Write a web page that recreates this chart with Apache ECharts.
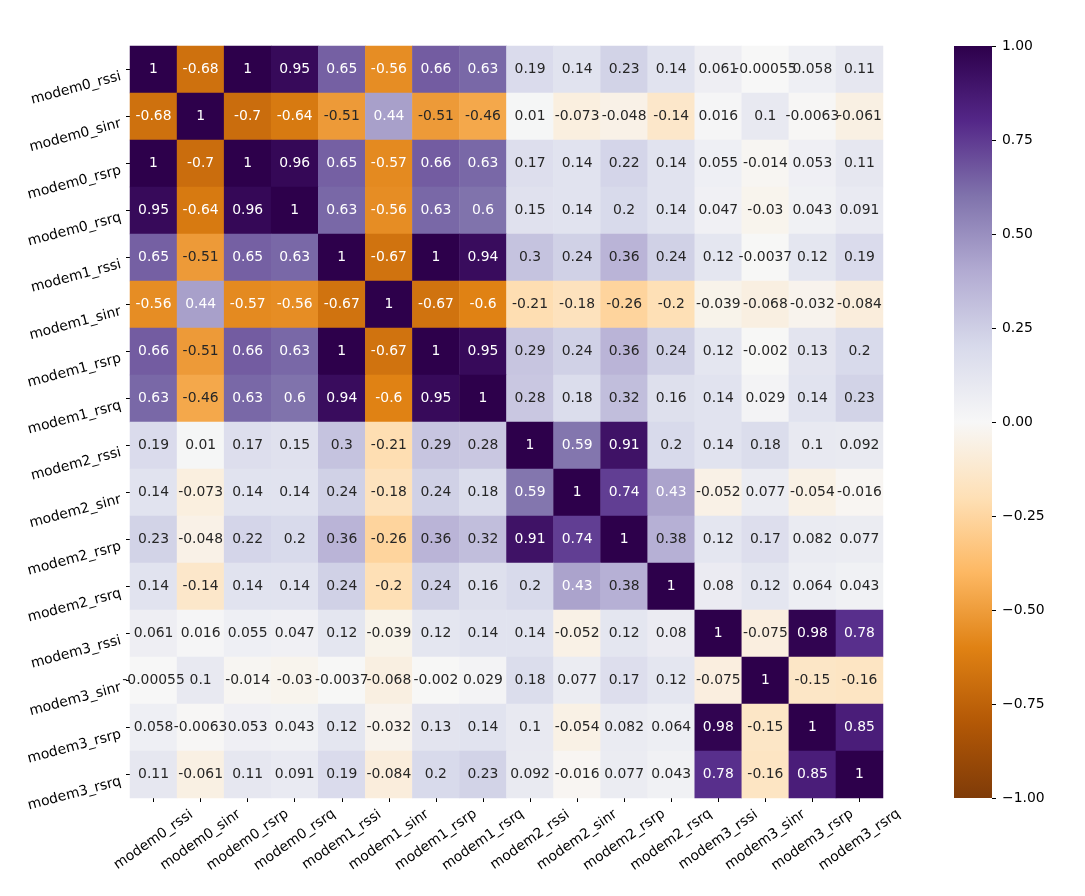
<!DOCTYPE html>
<html>
<head>
<meta charset="utf-8">
<script src="https://cdn.jsdelivr.net/npm/echarts@6/dist/echarts.min.js"></script>
<style>
html,body{margin:0;padding:0;background:#fff;}
#chart{width:1085px;height:896px;}
</style>
</head>
<body>
<div id="chart"></div>
<script>
const labels = ['modem0_rssi','modem0_sinr','modem0_rsrp','modem0_rsrq','modem1_rssi','modem1_sinr','modem1_rsrp','modem1_rsrq','modem2_rssi','modem2_sinr','modem2_rsrp','modem2_rsrq','modem3_rssi','modem3_sinr','modem3_rsrp','modem3_rsrq'];

const row_modem0_rssi = [1, -0.68, 1, 0.95, 0.65, -0.56, 0.66, 0.63, 0.19, 0.14, 0.23, 0.14, 0.061, -0.00055, 0.058, 0.11];
const row_modem0_sinr = [-0.68, 1, -0.7, -0.64, -0.51, 0.44, -0.51, -0.46, 0.01, -0.073, -0.048, -0.14, 0.016, 0.1, -0.0063, -0.061];
const row_modem0_rsrp = [1, -0.7, 1, 0.96, 0.65, -0.57, 0.66, 0.63, 0.17, 0.14, 0.22, 0.14, 0.055, -0.014, 0.053, 0.11];
const row_modem0_rsrq = [0.95, -0.64, 0.96, 1, 0.63, -0.56, 0.63, 0.6, 0.15, 0.14, 0.2, 0.14, 0.047, -0.03, 0.043, 0.091];
const row_modem1_rssi = [0.65, -0.51, 0.65, 0.63, 1, -0.67, 1, 0.94, 0.3, 0.24, 0.36, 0.24, 0.12, -0.0037, 0.12, 0.19];
const row_modem1_sinr = [-0.56, 0.44, -0.57, -0.56, -0.67, 1, -0.67, -0.6, -0.21, -0.18, -0.26, -0.2, -0.039, -0.068, -0.032, -0.084];
const row_modem1_rsrp = [0.66, -0.51, 0.66, 0.63, 1, -0.67, 1, 0.95, 0.29, 0.24, 0.36, 0.24, 0.12, -0.002, 0.13, 0.2];
const row_modem1_rsrq = [0.63, -0.46, 0.63, 0.6, 0.94, -0.6, 0.95, 1, 0.28, 0.18, 0.32, 0.16, 0.14, 0.029, 0.14, 0.23];
const row_modem2_rssi = [0.19, 0.01, 0.17, 0.15, 0.3, -0.21, 0.29, 0.28, 1, 0.59, 0.91, 0.2, 0.14, 0.18, 0.1, 0.092];
const row_modem2_sinr = [0.14, -0.073, 0.14, 0.14, 0.24, -0.18, 0.24, 0.18, 0.59, 1, 0.74, 0.43, -0.052, 0.077, -0.054, -0.016];
const row_modem2_rsrp = [0.23, -0.048, 0.22, 0.2, 0.36, -0.26, 0.36, 0.32, 0.91, 0.74, 1, 0.38, 0.12, 0.17, 0.082, 0.077];
const row_modem2_rsrq = [0.14, -0.14, 0.14, 0.14, 0.24, -0.2, 0.24, 0.16, 0.2, 0.43, 0.38, 1, 0.08, 0.12, 0.064, 0.043];
const row_modem3_rssi = [0.061, 0.016, 0.055, 0.047, 0.12, -0.039, 0.12, 0.14, 0.14, -0.052, 0.12, 0.08, 1, -0.075, 0.98, 0.78];
const row_modem3_sinr = [-0.00055, 0.1, -0.014, -0.03, -0.0037, -0.068, -0.002, 0.029, 0.18, 0.077, 0.17, 0.12, -0.075, 1, -0.15, -0.16];
const row_modem3_rsrp = [0.058, -0.0063, 0.053, 0.043, 0.12, -0.032, 0.13, 0.14, 0.1, -0.054, 0.082, 0.064, 0.98, -0.15, 1, 0.85];
const row_modem3_rsrq = [0.11, -0.061, 0.11, 0.091, 0.19, -0.084, 0.2, 0.23, 0.092, -0.016, 0.077, 0.043, 0.78, -0.16, 0.85, 1];

const rows = [row_modem0_rssi,row_modem0_sinr,row_modem0_rsrp,row_modem0_rsrq,
  row_modem1_rssi,row_modem1_sinr,row_modem1_rsrp,row_modem1_rsrq,
  row_modem2_rssi,row_modem2_sinr,row_modem2_rsrp,row_modem2_rsrq,
  row_modem3_rssi,row_modem3_sinr,row_modem3_rsrp,row_modem3_rsrq];

const colorbarMin = -1;
const colorbarMax = 1;
const colorbarStep = 0.25;

const PuOr = ['#7f3b08','#b35806','#e08214','#fdb863','#fee0b6','#f7f7f7','#d8daeb','#b2abd2','#8073ac','#542788','#2d004b'];
const FONT = 'DejaVu Sans';

function fmt(v){ return String(Number(v.toPrecision(2))); }

const data = [];
rows.forEach((r, yi) => {
  r.forEach((v, xi) => {
    const white = v >= 0.4 || v <= -0.53;
    data.push({ value: [xi, yi, v], label: { color: white ? '#ffffff' : '#262626' } });
  });
});

// colour-bar gradients (upper half: 0 -> 1, lower half: 0 -> -1)
const upperStops = PuOr.slice(5).reverse().map((c, i, a) => ({ offset: i / (a.length - 1), color: c }));
const lowerStops = PuOr.slice(0, 6).reverse().map((c, i, a) => ({ offset: i / (a.length - 1), color: c }));

const chart = echarts.init(document.getElementById('chart'), null, {renderer:'canvas'});
chart.setOption({
  animation: false,
  backgroundColor: '#ffffff',
  textStyle: { fontFamily: FONT },
  grid: [
    { left: 130, top: 46, width: 753, height: 752 },
    { left: 954, top: 46, width: 38, height: 752 }
  ],
  xAxis: [
    { type: 'category', data: labels, gridIndex: 0,
      axisLine: { show: false },
      axisTick: { show: true, alignWithLabel: true, length: 4, lineStyle: { color: '#000' } },
      axisLabel: { rotate: 35, align: 'center', verticalAlign: 'middle', margin: 42,
        fontSize: 13.9, color: '#000', fontFamily: FONT, interval: 0 },
      splitLine: { show: false } },
    { type: 'category', gridIndex: 1, show: false, data: ['cb'] }
  ],
  yAxis: [
    { type: 'category', data: labels, gridIndex: 0, inverse: true,
      axisLine: { show: false },
      axisTick: { show: true, alignWithLabel: true, length: 4, lineStyle: { color: '#000' } },
      axisLabel: { rotate: 15, align: 'right', verticalAlign: 'top', margin: 11,
        fontSize: 13.9, color: '#000', fontFamily: FONT, interval: 0 },
      splitLine: { show: false } },
    { type: 'value', gridIndex: 1, position: 'right', min: colorbarMin, max: colorbarMax, interval: colorbarStep,
      axisLine: { show: false },
      axisTick: { show: true, length: 4, lineStyle: { color: '#000' } },
      axisLabel: { margin: 10, fontSize: 13.9, color: '#000', fontFamily: FONT,
        formatter: v => v.toFixed(2).replace('-', '\u2212') },
      splitLine: { show: false } }
  ],
  visualMap: {
    type: 'continuous', min: colorbarMin, max: colorbarMax, seriesIndex: 0, show: false,
    inRange: { color: PuOr }
  },
  series: [{
    type: 'heatmap', xAxisIndex: 0, yAxisIndex: 0,
    data: data,
    label: { show: true, fontSize: 13.9, fontFamily: FONT,
      formatter: p => fmt(p.value[2]) },
    itemStyle: { borderWidth: 0 },
    emphasis: { disabled: true }
  }, {
    type: 'bar', xAxisIndex: 1, yAxisIndex: 1, stack: 'cb', barWidth: '100%',
    data: [colorbarMax], silent: true,
    itemStyle: { color: new echarts.graphic.LinearGradient(0, 0, 0, 1, upperStops) }
  }, {
    type: 'bar', xAxisIndex: 1, yAxisIndex: 1, stack: 'cb', barWidth: '100%',
    data: [colorbarMin], silent: true,
    itemStyle: { color: new echarts.graphic.LinearGradient(0, 0, 0, 1, lowerStops) }
  }]
});
</script>
</body>
</html>
